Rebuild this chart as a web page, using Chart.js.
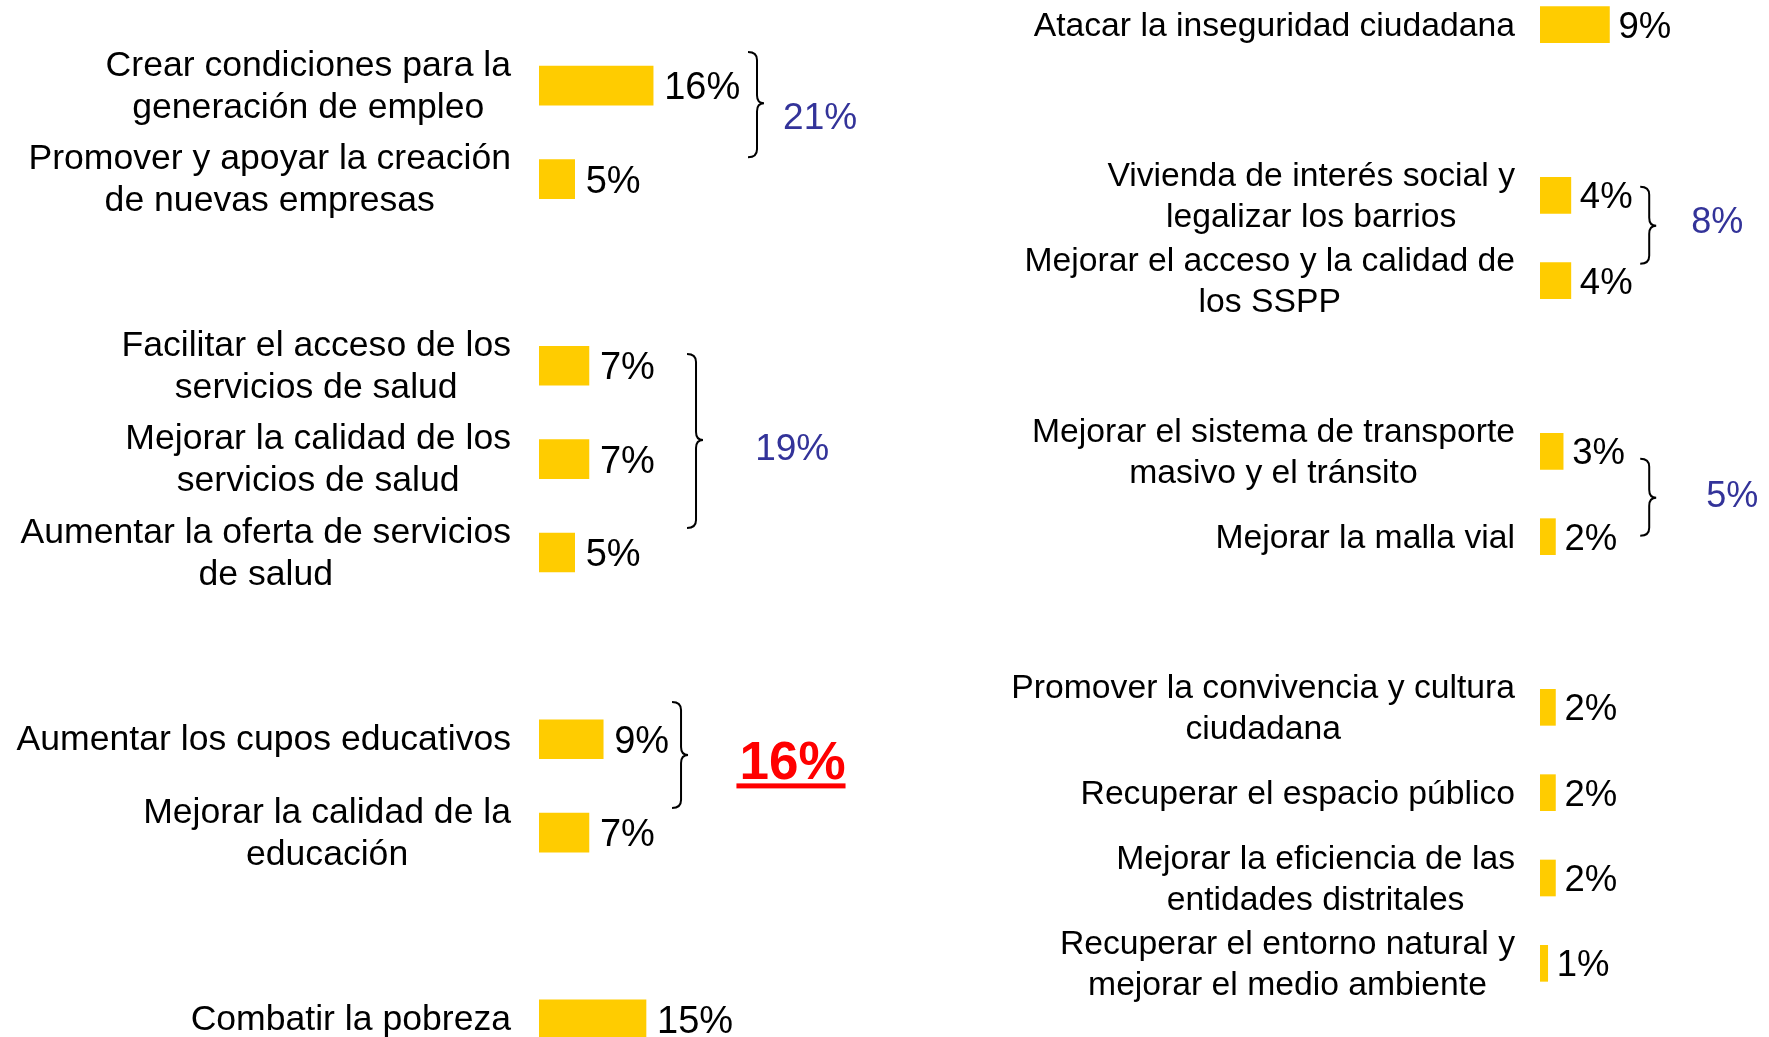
<!DOCTYPE html>
<html>
<head>
<meta charset="utf-8">
<script src="https://cdn.jsdelivr.net/npm/chart.js@4"></script>
<style>
  html, body { margin: 0; padding: 0; background: #ffffff; overflow: hidden; width: 1769px; height: 1037px; }
  #wrap { position: relative; width: 1769px; height: 1037px; overflow: hidden; }
  #leftChart { position: absolute; left: 0; top: 0; }
  #rightChart { position: absolute; left: 884px; top: -18px; }
</style>
</head>
<body>
<div id="wrap">
  <canvas id="leftChart" width="884" height="1067"></canvas>
  <canvas id="rightChart" width="885" height="1024"></canvas>
</div>
<script>
// ---------- DATA ----------
const leftCategories = [
  ["Crear condiciones para la", "generación de empleo"],
  ["Promover y apoyar la creación", "de nuevas empresas"],
  "",
  ["Facilitar el acceso de los", "servicios de salud"],
  ["Mejorar la calidad de los", "servicios de salud"],
  ["Aumentar la oferta de servicios", "de salud"],
  "",
  ["Aumentar los cupos educativos"],
  ["Mejorar la calidad de la", "educación"],
  "",
  ["Combatir la pobreza"]
];
const leftValues = [16, 5, null, 7, 7, 5, null, 9, 7, null, 15];

const rightCategories = [
  ["Atacar la inseguridad ciudadana"],
  "",
  ["Vivienda de interés social y", "legalizar los barrios"],
  ["Mejorar el acceso y la calidad de", "los SSPP"],
  "",
  ["Mejorar el sistema de transporte", "masivo y el tránsito"],
  ["Mejorar la malla vial"],
  "",
  ["Promover la convivencia y cultura", "ciudadana"],
  ["Recuperar el espacio público"],
  ["Mejorar la eficiencia de las", "entidades distritales"],
  ["Recuperar el entorno natural y", "mejorar el medio ambiente"]
];
const rightValues = [9, null, 4, 4, null, 3, 2, null, 2, 2, 2, 1];

// group totals (text) shown next to the braces
const leftGroupTotals = ["21%", "19%", "16%"];
const rightGroupTotals = ["8%", "5%"];

// ---------- STYLE / LAYOUT ----------
const BAR_COLOR = "#FFCC00";
const TOTAL_COLOR = "#333399";
const FONT_FAMILY = '"Liberation Sans", Arial, Helvetica, sans-serif';

// brace / total annotation placement (x in axis % units, y in category-index units)
const leftBraces = [
  { x: 29.3, top: -0.36, bottom: 0.766, tip: 0.187 },
  { x: 20.75, top: 2.875, bottom: 4.738, tip: 3.795 },
  { x: 18.65, top: 6.601, bottom: 7.736, tip: 7.168 }
];
const leftTotalsPos = [
  { x: 34.22, y: 0.321, color: TOTAL_COLOR, size: 37, bold: false, underline: false },
  { x: 30.3, y: 3.87, color: TOTAL_COLOR, size: 37, bold: false, underline: false },
  { x: 28.1, y: 7.227, color: "#FF0000", size: 53, bold: true, underline: true }
];
const rightBraces = [
  { x: 12.99, top: 1.899, bottom: 2.802, tip: 2.356 },
  { x: 12.99, top: 5.088, bottom: 5.99, tip: 5.545 }
];
const rightTotalsPos = [
  { x: 19.61, y: 2.292, color: TOTAL_COLOR, size: 36, bold: false, underline: false },
  { x: 21.56, y: 5.504, color: TOTAL_COLOR, size: 36, bold: false, underline: false }
];

function drawBrace(ctx, x0, yT, yB, yTip) {
  const xm = x0 + 9, x1 = x0 + 16, r = 8;
  ctx.save();
  ctx.strokeStyle = "#000";
  ctx.lineWidth = 2;
  ctx.beginPath();
  ctx.moveTo(x0, yT);
  ctx.quadraticCurveTo(xm, yT, xm, yT + r);
  ctx.lineTo(xm, yTip - r);
  ctx.quadraticCurveTo(xm, yTip, x1, yTip);
  ctx.quadraticCurveTo(xm, yTip, xm, yTip + r);
  ctx.lineTo(xm, yB - r);
  ctx.quadraticCurveTo(xm, yB, x0, yB);
  ctx.stroke();
  ctx.restore();
}

function makePlugin(cfg) {
  return {
    id: "annot",
    afterDatasetsDraw(chart) {
      const ctx = chart.ctx;
      const xs = chart.scales.x, ys = chart.scales.y;
      const labels = chart.data.labels;
      const values = chart.data.datasets[0].data;
      const meta = chart.getDatasetMeta(0);
      const base = xs.getPixelForValue(0);
      ctx.save();
      ctx.textBaseline = "alphabetic";
      ctx.fillStyle = "#000";
      // category labels: block right-aligned, lines centred within block
      ctx.font = cfg.labelSize + "px " + FONT_FAMILY;
      labels.forEach((lab, i) => {
        if (!lab || !lab.length) return;
        const lines = Array.isArray(lab) ? lab : [lab];
        const widths = lines.map(l => ctx.measureText(l).width);
        const maxW = Math.max(...widths);
        const right = base - cfg.labelGap;
        const cx = right - maxW / 2;
        const cy = ys.getPixelForValue(i);
        ctx.textAlign = "center";
        lines.forEach((l, j) => {
          const by = cy - (lines.length - 1) * cfg.lineH / 2 + j * cfg.lineH + 11;
          ctx.fillText(l, cx, by);
        });
      });
      // value labels
      ctx.font = cfg.valueSize + "px " + FONT_FAMILY;
      ctx.textAlign = "left";
      values.forEach((v, i) => {
        if (v === null || v === undefined) return;
        const el = meta.data[i];
        ctx.fillText(v + "%", el.x + cfg.valueGap, el.y + 0.358 * cfg.valueSize);
      });
      // braces
      cfg.braces.forEach(b => {
        drawBrace(ctx, xs.getPixelForValue(b.x), ys.getPixelForValue(b.top),
          ys.getPixelForValue(b.bottom), ys.getPixelForValue(b.tip));
      });
      // group totals
      cfg.totals.forEach((t, k) => {
        const txt = cfg.totalTexts[k];
        ctx.font = (t.bold ? "bold " : "") + t.size + "px " + FONT_FAMILY;
        ctx.fillStyle = t.color;
        ctx.textAlign = "left";
        const x = xs.getPixelForValue(t.x);
        const by = ys.getPixelForValue(t.y) + 0.358 * t.size;
        ctx.fillText(txt, x, by);
        if (t.underline) {
          const w = ctx.measureText(txt).width;
          ctx.fillRect(x - 3, by + 4, w + 3, 5);
        }
      });
      ctx.restore();
    }
  };
}

function makeChart(id, labels, values, opts) {
  return new Chart(document.getElementById(id), {
    type: "bar",
    data: {
      labels: labels,
      datasets: [{
        data: values,
        backgroundColor: BAR_COLOR,
        borderWidth: 0,
        barThickness: opts.barThickness
      }]
    },
    options: {
      indexAxis: "y",
      responsive: false,
      animation: false,
      events: [],
      layout: { padding: opts.padding },
      plugins: { legend: { display: false }, tooltip: { enabled: false } },
      scales: {
        x: { type: "linear", min: 0, max: opts.xMax, display: false },
        y: { type: "category", offset: true, display: false }
      }
    },
    plugins: [opts.plugin]
  });
}

makeChart("leftChart", leftCategories, leftValues, {
  barThickness: 39,
  xMax: 45,
  padding: { left: 539, right: 24, top: 39, bottom: 1 },
  plugin: makePlugin({
    labelSize: 35.6, lineH: 42, labelGap: 28, valueSize: 38, valueGap: 11,
    braces: leftBraces, totals: leftTotalsPos, totalTexts: leftGroupTotals
  })
});

makeChart("rightChart", rightCategories, rightValues, {
  barThickness: 36,
  xMax: 28,
  padding: { left: 656, right: 13, top: 0, bottom: 0 },
  plugin: makePlugin({
    labelSize: 33.7, lineH: 41, labelGap: 25, valueSize: 36.5, valueGap: 9,
    braces: rightBraces, totals: rightTotalsPos, totalTexts: rightGroupTotals
  })
});
</script>
</body>
</html>
